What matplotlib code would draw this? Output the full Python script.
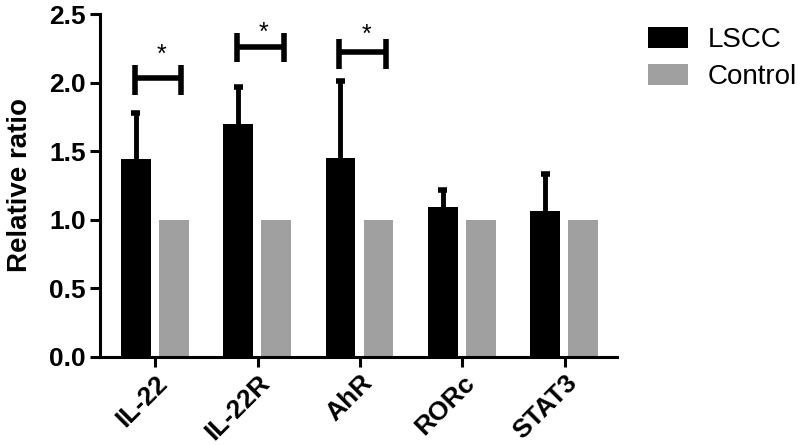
import numpy as np
import matplotlib.pyplot as plt
from matplotlib.patches import Patch

genes = ["IL-22", "IL-22R", "AhR", "RORc", "STAT3"]
lscc = [1.44, 1.70, 1.45, 1.095, 1.066]
lscc_err = [0.34, 0.265, 0.56, 0.125, 0.265]
control = [1.0, 1.0, 1.0, 1.0, 1.0]

# significance brackets: gene index, bracket level, tick top, tick bottom, star height
sig_idx = [0, 1, 2]
sig_level = [2.03, 2.26, 2.22]
sig_top = [2.13, 2.36, 2.315]
sig_bot = [1.91, 2.15, 2.10]
sig_star = [2.26, 2.42, 2.41]

plt.rcParams['font.family'] = ['Liberation Sans', 'DejaVu Sans']

def main():
    fig = plt.figure(figsize=(8, 4.45), dpi=100)
    ax = fig.add_axes([0.125, 0.198, 0.646, 0.7705])
    x = np.arange(len(genes))
    w = 0.29
    xl = x - 0.19
    tops = np.array(lscc) + np.array(lscc_err)
    ax.vlines(xl, lscc, tops, color="black", lw=3.5, zorder=1)
    ax.hlines(tops, xl - 0.045, xl + 0.045, color="black", lw=4, zorder=1)
    ax.bar(xl, lscc, w, color="black", zorder=2)
    ax.bar(x + 0.18, control, w, color="#a0a0a0", zorder=2)

    for i, lv, t, b, s in zip(sig_idx, sig_level, sig_top, sig_bot, sig_star):
        x0, x1 = i - 0.2, i + 0.255
        ax.plot([x0, x1], [lv, lv], color="black", lw=4, solid_capstyle="butt")
        ax.plot([x0, x0], [b, t], color="black", lw=4, solid_capstyle="butt")
        ax.plot([x1, x1], [b, t], color="black", lw=4, solid_capstyle="butt")
        ax.text(i + 0.06, s - 0.11, "*", ha="center", va="baseline", fontsize=18)

    ax.set_xlim(-0.54, 4.51)
    ax.set_ylim(0, 2.5)
    ax.set_yticks([0, 0.5, 1.0, 1.5, 2.0, 2.5])
    ax.set_yticklabels(["0.0", "0.5", "1.0", "1.5", "2.0", "2.5"], fontsize=19, fontweight="bold")
    ax.set_xticks(x)
    ax.set_xticklabels(genes, rotation=45, ha="right", rotation_mode="anchor",
                       fontsize=19, fontweight="bold")
    ax.set_ylabel("Relative ratio", fontsize=20, fontweight="bold", labelpad=12)
    for sp in ["top", "right"]:
        ax.spines[sp].set_visible(False)
    for sp in ["left", "bottom"]:
        ax.spines[sp].set_linewidth(2.2)
    ax.tick_params(width=2.2, length=7, pad=3)

    handles = [Patch(facecolor="black"), Patch(facecolor="#a0a0a0")]
    fig.legend(handles, ["LSCC", "Control"], loc="upper left",
               bbox_to_anchor=(0.81, 0.94), frameon=False, fontsize=20,
               handlelength=1.45, handleheight=0.8, handletextpad=0.7,
               labelspacing=0.4, borderpad=0, borderaxespad=0)
    fig.savefig("out.png", dpi=100)

if __name__ == "__main__":
    main()
